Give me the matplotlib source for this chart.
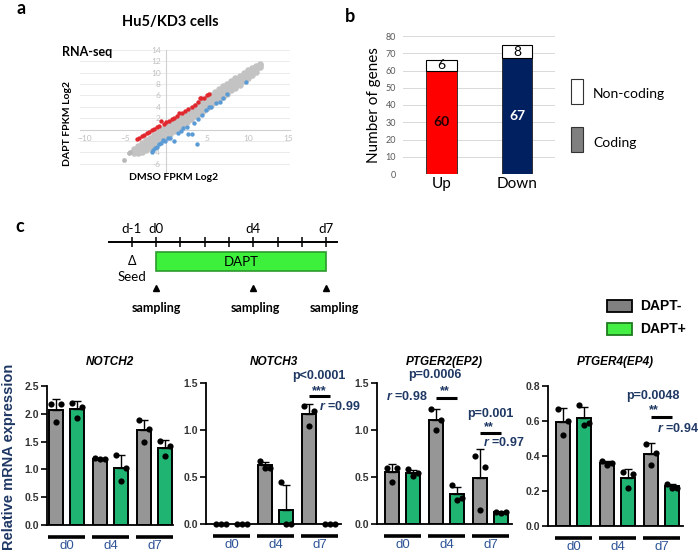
import numpy as np
import matplotlib
matplotlib.use("Agg")
import matplotlib.pyplot as plt
import matplotlib.transforms as mtransforms
from matplotlib.patches import Rectangle

plt.rcParams["font.family"] = ["Liberation Sans", "DejaVu Sans"]
plt.rcParams["mathtext.fontset"] = "custom"
plt.rcParams["mathtext.it"] = "Liberation Sans:bold:italic"
plt.rcParams["mathtext.rm"] = "Liberation Sans:bold"

# ── a. RNA-seq scatter (log2 FPKM, DMSO vs DAPT) ─────────────────────
band_x   = [-4.0, -3.5, -3.0, -2.5, -2.0, -1.5, -1.0, -0.5, 0.0, 0.5, 1.0, 1.5, 2.0, 2.5, 3.0, 3.5,
            4.0, 4.5, 5.0, 5.5, 6.0, 6.5, 7.0, 7.5, 8.0, 8.5, 9.0, 9.5, 10.0, 10.5, 11.0, 11.5]
band_up  = [-3.4, -2.9, -2.4, -1.9, -1.4, -0.9, -0.4, 0.1, 0.6, 1.1, 1.6, 2.1, 2.6, 3.1, 3.6, 4.1,
            4.6, 5.1, 5.6, 6.1, 6.6, 7.1, 7.6, 8.1, 8.5, 9.0, 9.5, 9.9, 10.4, 10.8, 11.2, 11.6]
band_mid = [-3.8, -3.5, -3.2, -2.8, -2.3, -1.8, -1.3, -0.8, -0.3, 0.2, 0.7, 1.2, 1.7, 2.2, 2.7, 3.2,
            3.7, 4.2, 4.7, 5.2, 5.7, 6.2, 6.7, 7.2, 7.7, 8.2, 8.7, 9.2, 9.7, 10.2, 10.7, 11.3]
band_low = [-4.1, -4.1, -3.9, -3.6, -3.2, -2.7, -2.2, -1.7, -1.3, -0.8, -0.3, 0.2, 0.8, 1.3, 1.8, 2.3,
            2.8, 3.3, 3.8, 4.3, 4.8, 5.3, 5.8, 6.3, 6.9, 7.4, 7.9, 8.5, 9.0, 9.6, 10.2, 11.0]
gray_out_x = [-5.2, -4.4, -4.6]
gray_out_y = [-5.4, -3.9, -4.2]
red_x = [-3.6, -3.3, -3.0, -2.7, -2.4, -2.1, -1.8, -1.5, -1.2, -0.9, -0.6, -0.3, 0.0, 0.3, 0.7,
         1.0, 1.3, 1.6, 1.9, 2.3, 2.7, 3.1, 3.5, 3.9, 4.1, 4.3, 4.6, 5.0, 5.2]
red_y = [-1.7, -1.4, -1.1, -0.9, -0.6, -0.4, -0.1, 0.1, 0.4, 0.7, 1.5, 1.0, 1.3, 1.5, 1.9,
         2.1, 2.4, 2.9, 3.0, 3.3, 3.7, 3.9, 4.3, 4.8, 5.5, 5.6, 5.5, 6.0, 6.2]
blue_x = [-1.8, -1.6, -1.4, -1.1, -0.9, -0.7, -0.4, -0.2, 0.2, 0.5, 1.0, 1.4, 1.8, 2.0, 2.5,
          2.65, 3.1, 3.8, 3.4, 3.9, 4.4, 4.9, 5.3, 5.5, 6.1, 6.6, 7.0, 7.4, 9.8]
blue_y = [-3.9, -3.6, -3.3, -3.0, -2.5, -2.4, -1.9, -2.1, -1.5, -1.4, -2.0, -0.6, -0.3, 0.2, 0.4,
          -0.7, -0.7, -2.6, 1.2, 1.9, 2.6, 3.4, 4.0, 4.0, 4.6, 4.9, 5.5, 6.2, 8.4]

# ── b. DEG 개수 ───────────────────────────────────────────────────────
deg_groups = ["Up", "Down"]
deg_coding = [60, 67]
deg_noncoding = [6, 8]

# ── c. timeline ───────────────────────────────────────────────────────
tl_days = [-1, 0, 1, 2, 3, 4, 5, 6, 7]
tl_label_days = [-1, 0, 4, 7]
tl_labels = ["d-1", "d0", "d4", "d7"]
seed_day = -1
dapt_start, dapt_end = 0, 7
sampling_days = [0, 4, 7]

# ── c. qPCR (3 replicates per bar) ────────────────────────────────────
days = ["d0", "d4", "d7"]
genes = ["NOTCH2", "NOTCH3", "PTGER2(EP2)", "PTGER4(EP4)"]
notch2_minus = [[2.18, 2.18, 1.86], [1.21, 1.19, 1.18], [1.88, 1.72, 1.50]]
notch2_plus  = [[2.20, 2.12, 1.92], [1.26, 1.03, 0.80], [1.51, 1.42, 1.24]]
notch3_minus = [[0.0, 0.0, 0.0], [0.67, 0.60, 0.60], [1.26, 1.20, 1.04]]
notch3_plus  = [[0.0, 0.0, 0.0], [0.45, 0.0, 0.0], [0.0, 0.0, 0.0]]
ptger2_minus = [[0.60, 0.60, 0.45], [1.22, 1.11, 1.00], [0.72, 0.61, 0.15]]
ptger2_plus  = [[0.58, 0.54, 0.51], [0.41, 0.28, 0.26], [0.13, 0.13, 0.12]]
ptger4_minus = [[0.67, 0.60, 0.52], [0.37, 0.36, 0.35], [0.47, 0.42, 0.35]]
ptger4_plus  = [[0.69, 0.59, 0.58], [0.31, 0.30, 0.22], [0.24, 0.22, 0.22]]

W, H = 698, 552
CAL = ["Lato", "DejaVu Sans"]
NAVY = "#1f3864"
GRAY = "#969696"
GREEN = "#20b472"

fig = plt.figure(figsize=(W / 100, H / 100), dpi=100)


def box(l, t, r, b):
    return [l / W, 1 - b / H, (r - l) / W, (b - t) / H]


ov = fig.add_axes([0, 0, 1, 1], zorder=10)
ov.set_xlim(0, W)
ov.set_ylim(H, 0)
ov.axis("off")

# ── panel a ──
axa = fig.add_axes(box(80, 50, 290, 175))
axa.patch.set_alpha(0)
for yy in (band_up, band_mid, band_low):
    axa.scatter(band_x, yy, s=22, color="#c3c3c3", lw=0, zorder=3)
axa.scatter(gray_out_x, gray_out_y, s=12, color="#b8b8b8", lw=0, zorder=3)
axa.scatter(red_x, red_y, s=10, color="#e0282e", lw=0, zorder=4)
axa.scatter(blue_x, blue_y, s=10, color="#5b9bd5", lw=0, zorder=4)
axa.set_xlim(-10.6, 15.2)
axa.set_ylim(-8, 14)
for s in ("top", "right"):
    axa.spines[s].set_visible(False)
axa.spines["left"].set_position(("data", 0))
axa.spines["bottom"].set_position(("data", 0))
for s in ("left", "bottom"):
    axa.spines[s].set_color("#d0d0d0")
    axa.spines[s].set_linewidth(0.8)
axa.set_xticks([-10, -5, 5, 10, 15])
yt = list(range(-8, 15, 2))
axa.set_yticks(yt)
axa.set_yticklabels(["" if v in (0, -8) else str(v) for v in yt])
axa.tick_params(length=0, labelsize=6, labelcolor="#c0c0c0", pad=4)
for lbl in axa.get_xticklabels() + axa.get_yticklabels():
    lbl.set_fontfamily(CAL)
axa.grid(axis="y", color="#e8e8e8", lw=0.6)
axa.set_axisbelow(True)

ov.text(21, 8, "a", fontsize=13, fontweight="bold", family=CAL, ha="center", va="center")
ov.text(170, 22, "Hu5/KD3 cells", fontsize=10.5, fontweight="bold", family=CAL, ha="center", va="center")
ov.text(62, 52, "RNA-seq", fontsize=9, fontweight="bold", family=CAL, ha="left", va="center")
ov.text(68, 123, "DAPT FPKM Log2", fontsize=7.5, fontweight="bold", family=CAL,
        ha="center", va="center", rotation=90)
ov.text(174, 177, "DMSO FPKM Log2", fontsize=7.5, fontweight="bold", family=CAL, ha="center", va="center")

# ── panel b ──
axb = fig.add_axes(box(403, 36, 555, 174))
axb.patch.set_alpha(0)
pos = np.arange(len(deg_groups))
axb.bar(pos, deg_coding, 0.4, color=["#ff0000", "#002060"], edgecolor="#222222", lw=0.6, zorder=3)
axb.bar(pos, deg_noncoding, 0.4, bottom=deg_coding, color="white", edgecolor="black", lw=0.8, zorder=3)
for p, c, n, tc in zip(pos, deg_coding, deg_noncoding, ["#220000", "white"]):
    axb.text(p, c / 2, str(c), ha="center", va="center", fontsize=10, fontweight="bold", color=tc,
             family=CAL, zorder=5)
    axb.text(p, c + n / 2, str(n), ha="center", va="center", fontsize=10, family=CAL, zorder=5)
axb.set_xlim(-0.51, 1.5)
axb.set_ylim(0, 80)
axb.set_yticks(range(0, 81, 10))
axb.set_xticks(pos)
axb.set_xticklabels(deg_groups)
for s in axb.spines.values():
    s.set_visible(False)
axb.grid(axis="y", color="#d9d9d9", lw=0.7)
axb.set_axisbelow(True)
axb.tick_params(axis="y", length=0, labelsize=6.5, labelcolor="#595959", pad=5)
axb.tick_params(axis="x", length=0, labelsize=11, pad=2)
for lbl in axb.get_xticklabels() + axb.get_yticklabels():
    lbl.set_fontfamily(CAL)

ov.text(350, 17, "b", fontsize=13, fontweight="bold", family=CAL, ha="center", va="center")
ov.text(374, 105, "Number of genes", fontsize=11, family=CAL, rotation=90, ha="center", va="center")
ov.add_patch(Rectangle((571, 79), 12, 25, facecolor="white", edgecolor="#333333", lw=0.8))
ov.add_patch(Rectangle((571, 127), 12, 25, facecolor="#7f7f7f", edgecolor="#333333", lw=0.8))
ov.text(593, 94, "Non-coding", fontsize=10, family=CAL, ha="left", va="center")
ov.text(593, 143, "Coding", fontsize=10, family=CAL, ha="left", va="center")

# ── panel c timeline ──
axt = fig.add_axes(box(100, 215, 345, 320))
axt.set_xlim((100 - 156) / 24.3, (345 - 156) / 24.3)
axt.set_ylim(320, 215)
axt.axis("off")
axt.plot([-1.95, 7.45], [242, 242], color="black", lw=1.4)
axt.vlines(tl_days, 237, 247, color="black", lw=1.1)
for d, lab in zip(tl_label_days, tl_labels):
    axt.text(d, 229, lab, ha="center", va="center", fontsize=9.5, family=CAL)
axt.add_patch(Rectangle((dapt_start, 252), dapt_end - dapt_start, 19,
                        facecolor="#3cf03c", edgecolor="#2e9a2e", lw=1.2))
axt.text((dapt_start + dapt_end) / 2, 261.5, "DAPT", ha="center", va="center", fontsize=9.5, family=CAL)
axt.text(seed_day, 261, "Δ", ha="center", va="center", fontsize=9, family=CAL)
axt.text(seed_day, 277, "Seed", ha="center", va="center", fontsize=9.5, family=CAL)
axt.plot(sampling_days, [288] * len(sampling_days), marker="^", ls="none", ms=5, color="black")
for d, off in zip(sampling_days, [0.0, 0.07, 0.35]):
    axt.text(d + off, 308, "sampling", ha="center", va="center", fontsize=9, fontweight="bold", family=CAL)

ov.text(20, 227, "c", fontsize=13, fontweight="bold", family=CAL, ha="center", va="center")
ov.add_patch(Rectangle((607, 300), 25, 12, facecolor="#808080", edgecolor="black", lw=1.3))
ov.add_patch(Rectangle((607, 323), 25, 12, facecolor="#44ee44", edgecolor="#1e7a1e", lw=1.3))
ov.text(640, 306, "DAPT-", fontsize=10, fontweight="bold", ha="left", va="center")
ov.text(640, 329, "DAPT+", fontsize=10, fontweight="bold", ha="left", va="center")

# ── panel c qPCR bars ──
DOT_OFF = np.array([-0.12, 0.12, 0.0])


def qpcr_panel(rect_px, title, minus_pts, plus_pts, ymax, ystep, xlim, notes, sig_bars):
    l, t, r, b = rect_px
    ax = fig.add_axes(box(l, t, r, b))
    ax.patch.set_alpha(0)
    g = np.arange(len(days))
    for pts, off, col in ((minus_pts, -0.24, GRAY), (plus_pts, 0.24, GREEN)):
        arr = np.array(pts)
        mean = arr.mean(axis=1)
        sd = arr.std(axis=1, ddof=1)
        ax.bar(g + off, mean, 0.32, color=col, edgecolor="black", lw=1.4, zorder=2)
        ax.errorbar(g + off, mean, yerr=[np.zeros_like(sd), sd], fmt="none", ecolor="black",
                    elinewidth=1.0, capsize=3, capthick=1.0, zorder=3)
        for k, row in enumerate(pts):
            ax.scatter(g[k] + off + DOT_OFF, row, s=20, color="black", lw=0, zorder=4, clip_on=False)
    ax.set_xlim(*xlim)
    ax.set_ylim(0, ymax)
    ax.set_yticks(np.arange(0, ymax + 1e-9, ystep))
    ax.yaxis.set_major_formatter(matplotlib.ticker.FormatStrFormatter("%.1f"))
    for s in ("top", "right"):
        ax.spines[s].set_visible(False)
    for s in ("left", "bottom"):
        ax.spines[s].set_linewidth(1.3)
    ax.tick_params(axis="y", length=4, width=1.2, labelsize=7.5, pad=1.5, labelcolor="#333333")
    for lbl in ax.get_yticklabels():
        lbl.set_fontweight("bold")
    ax.set_xticks(g)
    ax.set_xticklabels(days)
    ax.tick_params(axis="x", length=0, pad=11, labelsize=9.5, labelcolor="#2f5597")
    tr = mtransforms.blended_transform_factory(ax.transData, ax.transAxes)
    frac = -12 / (b - t)
    for k in g:
        ax.plot([k - 0.42, k + 0.42], [frac, frac], transform=tr, color="black", lw=2.6,
                clip_on=False, solid_capstyle="butt")
    ov.text((l + r) / 2, 362, title, fontsize=8.5, fontweight="bold", style="italic",
            ha="center", va="center")
    for txt, x, y, ha in notes:
        ax.text(x, y, txt, ha=ha, va="center", fontsize=9, fontweight="bold", color=NAVY)
    for x0, x1, y in sig_bars:
        ax.plot([x0, x1], [y, y], color="black", lw=2.2, clip_on=False, solid_capstyle="butt")
    return ax


qpcr_panel((47, 386, 173, 525), genes[0], notch2_minus, notch2_plus, 2.5, 0.5, (-0.44, 2.42), [], [])
qpcr_panel((206, 383, 341, 524), genes[1], notch3_minus, notch3_plus, 1.5, 0.5, (-0.58, 2.49),
           [("p<0.0001", 1.98, 1.575, "center"), ("***", 1.99, 1.41, "center"),
            ("$r$ =0.99", 1.99, 1.255, "left")],
           [(1.76, 2.24, 1.365)])
qpcr_panel((377, 383, 512, 524), genes[2], ptger2_minus, ptger2_plus, 1.5, 0.5, (-0.58, 2.49),
           [("p=0.0006", 0.74, 1.59, "center"), ("$r$ =0.98", 0.56, 1.354, "right"),
            ("**", 0.97, 1.41, "center"), ("p=0.001", 2.0, 1.175, "center"),
            ("**", 1.97, 1.03, "center"), ("$r$ =0.97", 1.83, 0.872, "left")],
           [(0.76, 1.24, 1.34), (1.76, 2.24, 0.968)])
qpcr_panel((548, 386, 683, 526), genes[3], ptger4_minus, ptger4_plus, 0.8, 0.2, (-0.58, 2.49),
           [("p=0.0048", 1.81, 0.742, "center"), ("**", 1.83, 0.66, "center"),
            ("$r$ =0.94", 1.9, 0.56, "left")],
           [(1.76, 2.24, 0.623)])

ov.text(9, 457, "Relative mRNA expression", fontsize=10.5, fontweight="bold", color=NAVY,
        rotation=90, ha="center", va="center")

fig.savefig("out.png", dpi=100)
